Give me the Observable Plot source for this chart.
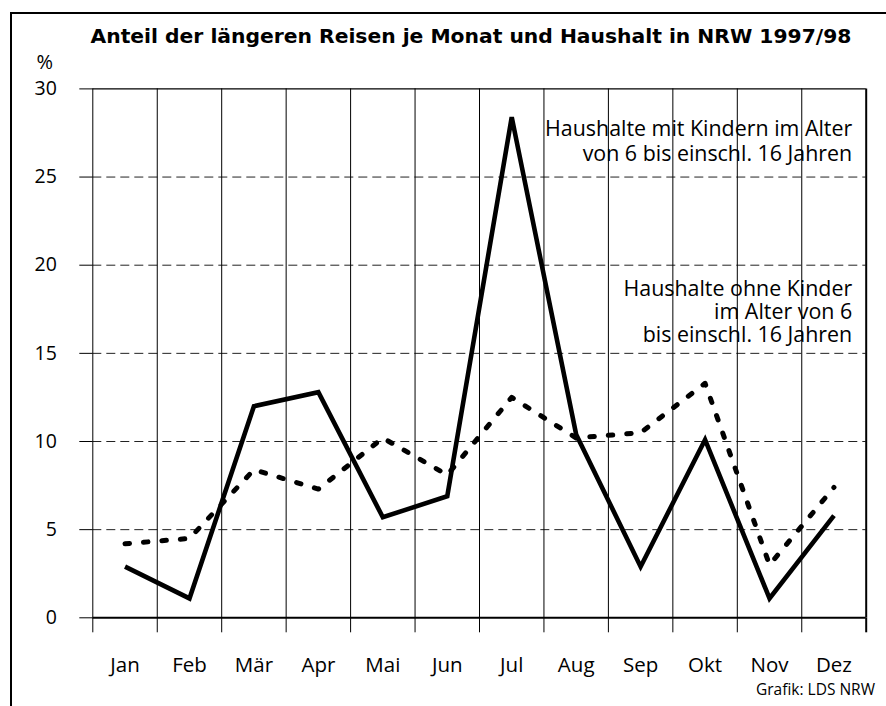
<!DOCTYPE html>
<html>
<head>
<meta charset="utf-8">
<script src="https://cdn.jsdelivr.net/npm/d3@7"></script>
<script src="https://cdn.jsdelivr.net/npm/@observablehq/plot@0.6"></script>
<style>
  html, body { margin: 0; padding: 0; background: #fff; width: 886px; height: 706px; overflow: hidden; }
  #wrap { position: relative; width: 886px; height: 706px; overflow: hidden; background: #fff; }
  #frame { position: absolute; left: 10px; top: 11.5px; width: 2000px; height: 2000px;
           border-left: 2.5px solid #000; border-top: 2.5px solid #000; box-sizing: border-box; }
  #chart { position: absolute; left: 0; top: 0; }
  .lbl { position: absolute; white-space: nowrap; color: #000; }
  #title { left: 0; width: 942px; text-align: center; top: 26px; font: bold 20.3px/20.3px "DejaVu Sans"; }
  #unit { left: 36.5px; top: 52.4px; font: 20px/20px "Open Sans"; }
  #credit { right: 11px; top: 682px; font: 15.5px/15.5px "Open Sans"; }
</style>
</head>
<body>
<div id="wrap">
  <div id="frame"></div>
  <div id="chart"></div>
  <div id="title" class="lbl">Anteil der längeren Reisen je Monat und Haushalt in NRW 1997/98</div>
  <div id="unit" class="lbl">%</div>
  <div id="credit" class="lbl">Grafik: LDS NRW</div>
</div>
<script>
// ---- data ----
const months = ["Jan", "Feb", "Mär", "Apr", "Mai", "Jun", "Jul", "Aug", "Sep", "Okt", "Nov", "Dez"];
const mitKindern = [2.9, 1.1, 12.0, 12.8, 5.7, 6.9, 28.4, 10.4, 2.9, 10.1, 1.1, 5.8];
const ohneKinder = [4.2, 4.5, 8.4, 7.3, 10.2, 8.1, 12.5, 10.2, 10.5, 13.3, 3.0, 7.4];
const yTicks = [0, 5, 10, 15, 20, 25, 30];
const labelMit = "Haushalte mit Kindern im Alter\nvon 6 bis einschl. 16 Jahren";
const labelOhne = "Haushalte ohne Kinder\nim Alter von 6\nbis einschl. 16 Jahren";

// ---- derived tables ----
const centers = months.map((m, i) => i + 0.5);
const boundaries = d3.range(months.length + 1);
const rowsMit = months.map((m, i) => ({ x: centers[i], y: mitKindern[i] }));
const rowsOhne = months.map((m, i) => ({ x: centers[i], y: ohneKinder[i] }));
const yMax = d3.max(yTicks);

const chart = Plot.plot({
  width: 886,
  height: 706,
  marginLeft: 92.3,
  marginRight: 20.3,
  marginTop: 88.4,
  marginBottom: 88.7,
  x: { domain: [0, months.length], axis: null, label: null },
  y: { domain: [0, yMax], axis: null, label: null },
  style: { fontFamily: "Open Sans", background: "transparent", color: "#000" },
  marks: [
    // dashed horizontal grid
    Plot.ruleY(yTicks.filter(v => v > 0 && v < yMax), { stroke: "#222", strokeWidth: 1, strokeDasharray: "9,5" }),
    // top line
    Plot.ruleY([yMax], { stroke: "#000", strokeWidth: 1.3 }),
    // vertical grid
    Plot.ruleX(boundaries.slice(0, -1), { y1: 0, y2: yMax, stroke: "#000", strokeWidth: 1 }),
    Plot.ruleX(boundaries.slice(-1), { y1: 0, y2: yMax, stroke: "#000", strokeWidth: 2 }),
    // x ticks at boundaries
    Plot.axisX(boundaries.slice(0, -1), { tickSize: 15, tickFormat: () => "", strokeWidth: 1, label: null }),
    Plot.axisX(boundaries.slice(-1), { tickSize: 15, tickFormat: () => "", strokeWidth: 2, label: null }),
    // month labels
    Plot.axisX(centers, { tickSize: 0, tickPadding: 39.4, tickFormat: d => months[Math.floor(d)], fontSize: 20.5, label: null }),
    // y axis
    Plot.axisY(yTicks, { tickSize: 13, tickPadding: 23, fontSize: 19.5, strokeWidth: 1, label: null }),
    // baseline
    Plot.ruleY([0], { stroke: "#000", strokeWidth: 2 }),
    // series
    Plot.line(rowsOhne, { x: "x", y: "y", stroke: "#000", strokeWidth: 5, strokeDasharray: "4.5,14",
                          strokeLinecap: "round", strokeLinejoin: "round" }),
    Plot.line(rowsMit, { x: "x", y: "y", stroke: "#000", strokeWidth: 4.6,
                         strokeLinecap: "butt", strokeLinejoin: "miter", strokeMiterlimit: 4 }),
    // annotations
    Plot.text([labelMit], { frameAnchor: "right", y: 27.07, dx: -14, textAnchor: "end", lineAnchor: "middle",
                            lineHeight: 1.168, fontSize: 21.4, fill: "#000" }),
    Plot.text([labelOhne], { frameAnchor: "right", y: 17.38, dx: -14, textAnchor: "end", lineAnchor: "middle",
                             lineHeight: 1.09, fontSize: 21.4, fill: "#000" })
  ]
});
document.getElementById("chart").appendChild(chart);
</script>
</body>
</html>
